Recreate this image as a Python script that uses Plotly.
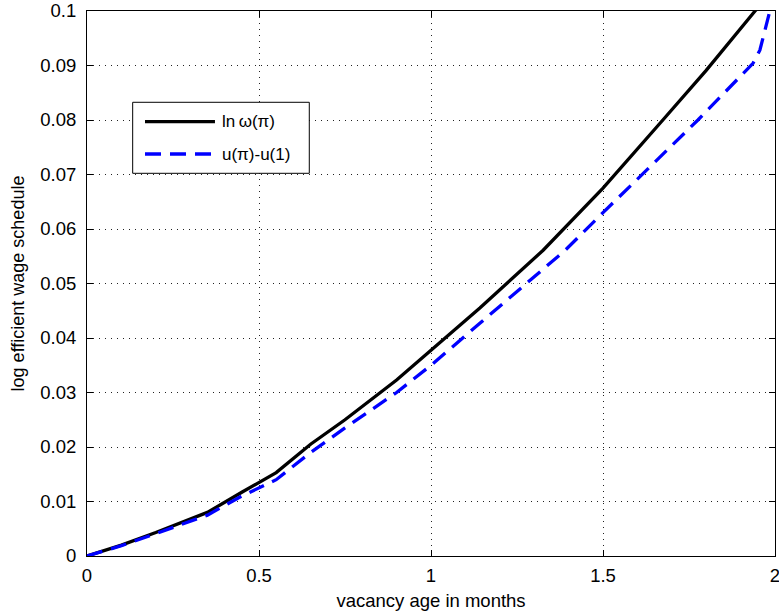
import plotly.graph_objects as go

# vacancy age (months) and the two log wage schedules
age_w = [0.0, 0.1, 0.2, 0.35, 0.45, 0.55, 0.65, 0.75, 0.9, 1.0, 1.142, 1.326,
         1.5, 1.674, 1.8, 1.942, 2.0]
ln_omega = [0.0, 0.002, 0.0043, 0.008, 0.0117, 0.0153, 0.0205, 0.025, 0.0323,
            0.0378, 0.0455, 0.0561, 0.0675, 0.080, 0.0891, 0.100, 0.104]

age_u = [0.0, 0.1, 0.2, 0.35, 0.45, 0.55, 0.65, 0.75, 0.9, 1.0, 1.142, 1.39,
         1.5, 1.776, 1.936, 1.956, 1.985, 2.0]
u_diff = [0.0, 0.0019, 0.0041, 0.0075, 0.011, 0.014, 0.019, 0.0235, 0.030,
          0.035, 0.0427, 0.0561, 0.063, 0.080, 0.0904, 0.0928, 0.100, 0.106]

x_ticks = [0, 0.5, 1, 1.5, 2]
x_labels = ["0", "0.5", "1", "1.5", "2"]
y_ticks = [0, 0.01, 0.02, 0.03, 0.04, 0.05, 0.06, 0.07, 0.08, 0.09, 0.1]
y_labels = ["0", "0.01", "0.02", "0.03", "0.04", "0.05", "0.06", "0.07",
            "0.08", "0.09", "0.1"]

names = ["ln\u2009ω(π)", "u(π)-u(1)"]
colors = ["#000000", "#0000ff"]
dashes = ["solid", "16px,9px"]

FONT = "Liberation Sans, Arial, sans-serif"

fig = go.Figure()
fig.add_trace(go.Scatter(x=age_w, y=ln_omega, mode="lines", name=names[0],
                         line=dict(color=colors[0], width=3.3, dash=dashes[0]),
                         showlegend=False))
fig.add_trace(go.Scatter(x=age_u, y=u_diff, mode="lines", name=names[1],
                         line=dict(color=colors[1], width=3.3, dash=dashes[1]),
                         showlegend=False))

axis_common = dict(
    showline=True, linecolor="black", linewidth=1, mirror="ticks",
    ticks="inside", ticklen=6, tickcolor="black", tickwidth=1,
    showgrid=True, gridcolor="#222222", gridwidth=1, griddash="1px,5px",
    zeroline=False, ticklabeloverflow="allow",
    tickfont=dict(family=FONT, size=18.5, color="black"),
)

fig.update_xaxes(range=[0, 2], tickvals=x_ticks, ticktext=x_labels,
                 ticklabelstandoff=3,
                 title=dict(text="vacancy age in months", standoff=8,
                            font=dict(family=FONT, size=18.5, color="black")),
                 **axis_common)
fig.update_yaxes(range=[0, 0.1], tickvals=y_ticks, ticktext=y_labels,
                 ticklabelstandoff=6,
                 title=dict(text="log efficient wage schedule", standoff=10,
                            font=dict(family=FONT, size=18, color="black")),
                 **axis_common)

# boxed legend with long line samples
box = dict(x0=0.0664, x1=0.3231, y0=0.7022, y1=0.8325)
fig.add_shape(type="rect", xref="paper", yref="paper", layer="above",
              line=dict(color="black", width=1), fillcolor="white", **box)
entry_y = [0.7969, 0.7376]
for name, col, dsh, yy in zip(names, colors, dashes, entry_y):
    fig.add_shape(type="line", xref="paper", yref="paper", layer="above",
                  x0=0.0843, x1=0.1860, y0=yy, y1=yy,
                  line=dict(color=col, width=3.3, dash=dsh))
    fig.add_annotation(xref="paper", yref="paper", x=0.1933, y=yy,
                       text=name, showarrow=False, xanchor="left",
                       yanchor="middle",
                       font=dict(family=FONT, size=17, color="black"))

fig.update_layout(
    width=779, height=612,
    margin=dict(l=87, r=4, t=11, b=56, autoexpand=False),
    paper_bgcolor="white", plot_bgcolor="white",
    font=dict(family=FONT, size=18, color="black"),
)

fig.write_html("out.html")
